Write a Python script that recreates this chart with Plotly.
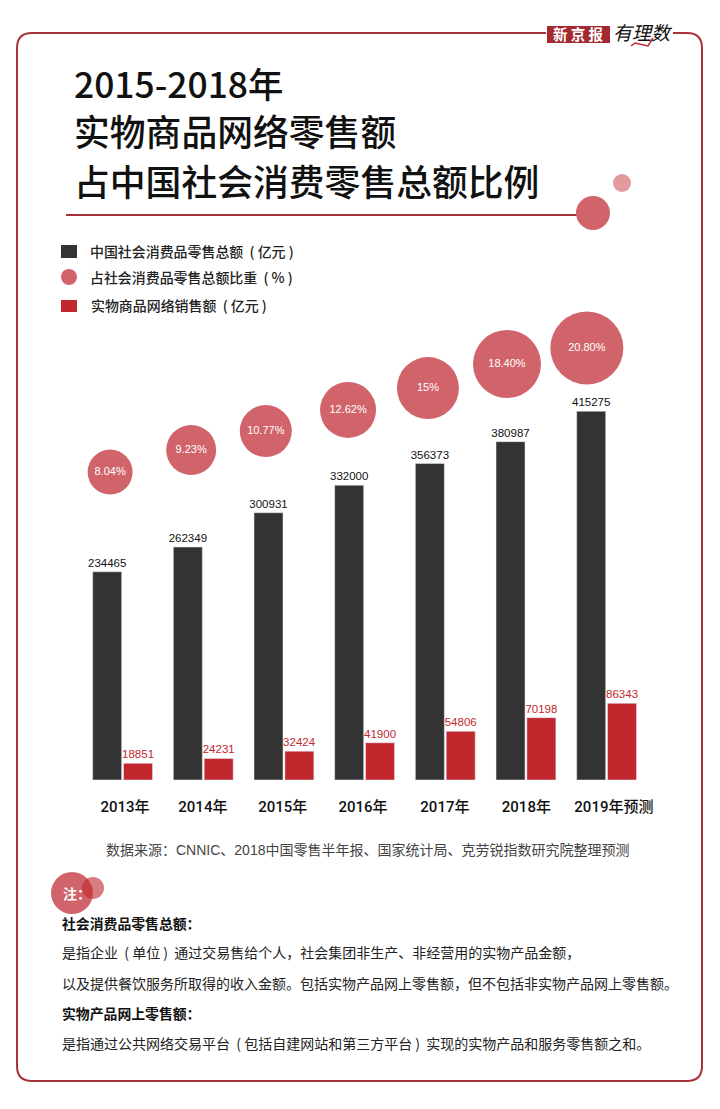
import plotly.graph_objects as go

W, H = 720, 1109
CJK = "Noto Sans CJK SC"
LATIN = "Liberation Sans, Noto Sans CJK SC"
DARK, RED, PINK, FRAME = "#333333", "#c1272d", "#d1646b", "#a8323a"

years = ["2013年", "2014年", "2015年", "2016年", "2017年", "2018年", "2019年预测"]
total_retail = [234465, 262349, 300931, 332000, 356373, 380987, 415275]
online_retail = [18851, 24231, 32424, 41900, 54806, 70198, 86343]
share_labels = ["8.04%", "9.23%", "10.77%", "12.62%", "15%", "18.40%", "20.80%"]
share_diameter = [45, 50, 52, 56, 62, 68, 73]
share_level = [346800, 371600, 393000, 416700, 441400, 468500, 486500]
share_x = [-0.155, 0.85, 1.775, 2.795, 3.785, 4.765, 5.755]
tick_pos = [0.03, 0.995, 1.985, 2.98, 3.995, 5.005, 6.09]

S = "\u00a0"
COLON = "\uff1a"
COMMA = "\uff0c"
name_total = f"中国社会消费品零售总额{S}{S}({S}亿元{S})"
name_share = f"占社会消费品零售总额比重{S}{S}({S}%{S})"
name_online = f"实物商品网络销售额{S}{S}({S}亿元{S})"

BASE_PX, PX_PER_UNIT, X0_PX, STEP_PX = 780, 0.000888, 122.6, 80.67

def px(x):
    return x / W

def py(y):
    return 1 - y / H

fig = go.Figure()
fig.add_bar(x=list(range(7)), y=total_retail, name=name_total, marker_color=DARK,
            text=total_retail, textposition="outside", cliponaxis=False, textangle=0, constraintext="none",
            textfont=dict(family=LATIN, size=11.5, color="#111111"), showlegend=False)
fig.add_bar(x=list(range(7)), y=online_retail, name=name_online, marker_color=RED,
            text=online_retail, textposition="outside", cliponaxis=False, textangle=0, constraintext="none",
            textfont=dict(family=LATIN, size=11.5, color=RED), showlegend=False)
fig.add_scatter(x=share_x, y=share_level, name=name_share, mode="markers+text",
                marker=dict(size=share_diameter, color=PINK, line_width=0, opacity=1),
                text=share_labels, textposition="middle center", cliponaxis=False,
                textfont=dict(family=LATIN, size=11, color="white"), showlegend=False)

def text(x, y, s, size=13, color="#222222", anchor="left", family=CJK, weight=400):
    fig.add_annotation(xref="paper", yref="paper", x=px(x), y=py(y), text=s, showarrow=False,
                       xanchor=anchor, yanchor="middle", borderpad=0, borderwidth=0,
                       font=dict(family=family, size=size, color=color, weight=weight))

def circle(cx, cy, r, color, opacity=1.0):
    fig.add_shape(type="circle", xref="paper", yref="paper", x0=px(cx - r), x1=px(cx + r),
                  y0=py(cy + r), y1=py(cy - r), fillcolor=color, opacity=opacity, line_width=0)

def rect(x0, y0, x1, y1, color):
    fig.add_shape(type="rect", xref="paper", yref="paper", x0=px(x0), x1=px(x1),
                  y0=py(y1), y1=py(y0), fillcolor=color, line_width=0)

def path(points, color, width):
    d = ""
    for cmd, *coords in points:
        d += cmd + " ".join(f"{px(coords[i]):.5f},{py(coords[i + 1]):.5f}" for i in range(0, len(coords), 2)) + " "
    fig.add_shape(type="path", xref="paper", yref="paper", path=d.strip(),
                  line=dict(color=color, width=width), fillcolor="rgba(0,0,0,0)")

# frame with a gap for the masthead
L, T, R, B, C = 17, 33, 702, 1081, 15
path([("M", 546, T), ("L", L + C, T), ("Q", L, T, L, T + C), ("L", L, B - C), ("Q", L, B, L + C, B),
      ("L", R - C, B), ("Q", R, B, R, B - C), ("L", R, T + C), ("Q", R, T, R - C, T), ("L", 673, T)], FRAME, 2)

# masthead
rect(547, 26, 610, 43, "#a52a30")
text(578.5, 33.5, f"新{S}京{S}报", 14.5, "white", "center", CJK, 700)
path([("M", 631, 46), ("L", 635, 43), ("L", 648, 46), ("L", 653, 38)], RED, 1.5)
text(643, 32, "<i>有理数</i>", 19, "#111111", "center")

# title
text(74, 83, "2015-2018年", 35.4, "#111111", weight=500)
text(74, 130, "实物商品网络零售额", 35.8, "#111111", weight=500)
text(74, 180, "占中国社会消费零售总额比例", 35.8, "#111111", weight=500)
path([("M", 66, 215), ("L", 590, 215)], FRAME, 2)
circle(593, 213, 17, PINK)
circle(622, 183, 9, "#e39a9e")

# legend
rect(61, 245, 77, 258, DARK)
circle(69, 277, 8, PINK)
rect(61, 300, 77, 312, RED)
text(90, 251, name_total, 13.95, weight=500)
text(90, 277, name_share, 13.95, weight=500)
text(91, 305, name_online, 13.95, weight=500)

# source and notes
text(367, 850, f"数据来源{COLON}CNNIC、2018中国零售半年报、国家统计局、克劳锐指数研究院整理预测", 14, "#444444", "center", LATIN)
circle(72, 893, 21, PINK)
circle(93, 888, 11, "#c1272d", 0.6)
text(63, 893, f"注{COLON}", 14, "white", "left", CJK, 700)
text(62, 923, f"社会消费品零售总额{COLON}", 13.85, "#111111", weight=700)
text(62, 952, f"是指企业{S}{S}({S}单位{S}){S}{S}通过交易售给个人{COMMA}社会集团非生产、非经营用的实物产品金额{COMMA}", 14, "#222222")
text(62, 983, f"以及提供餐饮服务所取得的收入金额。包括实物产品网上零售额{COMMA}但不包括非实物产品网上零售额。", 14, "#222222")
text(62, 1013, f"实物产品网上零售额{COLON}", 13.85, "#111111", weight=700)
text(62, 1043, f"是指通过公共网络交易平台{S}{S}({S}包括自建网站和第三方平台{S}){S}{S}实现的实物产品和服务零售额之和。", 14, "#222222")

fig.update_layout(
    width=W, height=H, autosize=False, margin=dict(l=0, r=0, t=0, b=0),
    paper_bgcolor="white", plot_bgcolor="rgba(0,0,0,0)",
    barmode="group", bargap=0.235, bargroupgap=0.06,
    xaxis=dict(range=[-X0_PX / STEP_PX, (W - X0_PX) / STEP_PX], domain=[0, 1], tickmode="array",
               tickvals=tick_pos, ticktext=years, ticks="outside", ticklen=13, tickcolor="rgba(0,0,0,0)",
               showgrid=False, zeroline=False, showline=False, tickangle=0,
               tickfont=dict(family="Roboto, Noto Sans CJK SC", size=15, color="#111111", weight=500)),
    yaxis=dict(range=[0, BASE_PX / PX_PER_UNIT], domain=[1 - BASE_PX / H, 1], visible=False),
)
fig.write_html("out.html", config={"displayModeBar": False},
               post_script="document.body.style.margin='0';document.documentElement.style.margin='0';")
